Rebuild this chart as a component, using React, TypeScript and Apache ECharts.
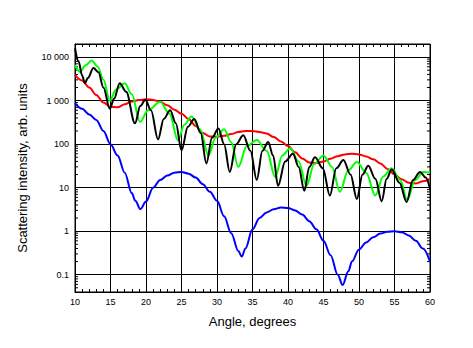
import React, { useEffect, useRef } from "react";
import * as echarts from "echarts";

const xMin = 10;
const xMax = 60;
const xTickStep = 5;
const yMin = 0.04;
const yMax = 20000;

const blackCurve: [number, number][] = [
  [10, 16000], [10.5, 8000], [11, 3800], [11.4, 2500], [11.8, 3300], [12.6, 5600], [13.3, 4500], [14, 2000],
  [14.9, 650], [15.5, 1100], [16.3, 2500], [17.2, 1600], [18.45, 300], [19.2, 750], [19.9, 1050], [20.7, 600],
  [21.7, 128], [22.5, 380], [23.4, 600], [24.2, 300], [25.0, 72], [25.9, 250], [26.8, 380], [27.7, 180],
  [28.5, 36], [29.3, 140], [30.2, 230], [31.0, 100], [31.8, 23], [32.7, 100], [33.7, 160], [34.7, 70],
  [35.6, 15], [36.4, 70], [37.2, 112], [37.9, 55], [38.6, 11], [39.6, 40], [40.7, 60], [41.5, 30],
  [42.3, 8.5], [43.0, 30], [43.8, 50], [44.9, 28], [45.9, 6.6], [46.8, 28], [47.8, 43], [48.8, 20],
  [49.7, 5.5], [50.5, 20], [51.3, 32], [52.3, 16], [53.2, 4.9], [53.9, 16], [54.6, 26], [55.7, 13],
  [56.7, 4.7], [57.6, 15], [58.6, 23], [59.4, 17], [60, 9.3],
];

const greenCurve: [number, number][] = [
  [10, 6600], [10.7, 4600], [11.5, 6500], [12.35, 8400], [13.2, 6000], [14.0, 3000], [14.9, 1000], [15.8, 1800],
  [17.0, 2500], [18.0, 1400], [19.15, 325], [20.3, 600], [22.0, 940], [23.3, 500], [24.5, 123], [25.4, 280],
  [26.4, 430], [27.6, 220], [28.8, 55], [29.8, 140], [31.0, 220], [32.0, 110], [33.0, 30], [34.2, 90],
  [35.6, 125], [37.0, 70], [38.2, 17.5], [39.2, 55], [40.3, 80], [41.5, 40], [42.6, 11], [43.7, 35],
  [45.0, 55], [46.2, 30], [47.3, 8], [48.5, 25], [49.7, 39], [51.0, 22], [52.3, 6.6], [53.4, 18],
  [54.6, 28], [55.8, 15], [56.8, 5.2], [57.9, 15], [59.1, 23], [60, 22],
];

const redCurve: [number, number][] = [
  [10, 3900], [11, 2900], [12, 2000], [13, 1350], [14, 900], [15, 720], [16, 700], [17, 820], [18, 950],
  [19, 1030], [20, 1070], [21, 1040], [22, 940], [23, 780], [24, 620], [25, 500], [26, 380], [27, 260],
  [28, 180], [29, 150], [30, 148], [31, 155], [32, 170], [33, 190], [34, 200], [35, 200], [36, 190],
  [37, 175], [38, 145], [39, 115], [40, 90], [41, 65], [42, 47], [43, 38], [44, 37], [45, 40], [46, 46],
  [47, 53], [48, 58], [49, 60], [50, 58], [51, 52], [52, 45], [53, 36], [54, 27], [55, 20], [56, 15.5],
  [57, 13], [58, 12.5], [59, 14], [60, 16],
];

const blueCurve: [number, number][] = [
  [10, 880], [11, 650], [12, 480], [13, 360], [14, 200], [15, 100], [16, 55], [17, 22], [18, 7.5],
  [18.5, 5], [19.2, 3.2], [20, 4.8], [21, 10], [22, 15], [23, 19], [24, 22], [25, 23], [26, 21], [27, 17],
  [28, 12], [29, 8], [30, 5], [31, 2.2], [32, 0.9], [33, 0.35], [33.5, 0.26], [34, 0.4], [35, 1.1],
  [36, 2], [37, 2.7], [38, 3.2], [39, 3.5], [40, 3.4], [41, 3], [42, 2.4], [43, 1.7], [44, 1.1],
  [45, 0.6], [46, 0.28], [47, 0.1], [47.7, 0.058], [48.5, 0.12], [49, 0.2], [50, 0.38], [51, 0.55],
  [52, 0.72], [53, 0.88], [54, 0.97], [55, 1.0], [56, 0.95], [57, 0.8], [58, 0.6], [59, 0.4], [60, 0.2],
];

const minorMultipliers = [2, 3, 4, 5, 6, 7, 8, 9];
const minorDecades = [0.01, 0.1, 1, 10, 100, 1000, 10000];

const yMinorTicks: [number, number][] = [];
minorDecades.forEach((d) =>
  minorMultipliers.forEach((m) => {
    const v = d * m;
    if (v > yMin * 1.0001 && v < yMax * 0.9999) yMinorTicks.push([xMin, v]);
  })
);

function formatPow(v: number): string {
  const lg = Math.log10(v);
  const p = Math.round(lg);
  if (Math.abs(lg - p) > 1e-6) return "";
  if (p < 0) return (Math.pow(10, p)).toFixed(-p);
  const s = String(Math.round(Math.pow(10, p)));
  return s.replace(/\B(?=(\d{3})+(?!\d))/g, " ");
}

const FONT = "'Liberation Sans', Arial, sans-serif";

export default function App() {
  const ref = useRef<HTMLDivElement>(null);
  useEffect(() => {
    if (!ref.current) return;
    const chart = echarts.init(ref.current, undefined, { renderer: "svg" });
    const lineSeries = (data: [number, number][], color: string) => ({
      type: "line",
      data,
      showSymbol: false,
      smooth: 0.35,
      smoothMonotone: "x",
      lineStyle: { color, width: 2 },
      itemStyle: { color },
      z: 3,
    });
    chart.setOption({
      animation: false,
      backgroundColor: "#fff",
      grid: {
        left: 75,
        right: 43,
        top: 44,
        bottom: 56,
        show: true,
        borderColor: "#000",
        borderWidth: 1,
        backgroundColor: "transparent",
      },
      xAxis: [
        {
          type: "value",
          min: xMin,
          max: xMax,
          interval: xTickStep,
          position: "bottom",
          name: "Angle, degrees",
          nameLocation: "middle",
          nameGap: 23,
          nameTextStyle: { fontFamily: FONT, fontSize: 13, color: "#000" },
          axisLine: { show: true, lineStyle: { color: "#000", width: 1 } },
          axisTick: { show: true, inside: true, length: 3, lineStyle: { color: "#000" } },
          minorTick: { show: true, splitNumber: 5, length: 3, lineStyle: { color: "#000", width: 1 } },
          axisLabel: { fontFamily: FONT, fontSize: 9, color: "#000", margin: 5 },
          splitLine: { show: true, lineStyle: { color: "#000", width: 1 } },
        },
        {
          type: "value",
          min: xMin,
          max: xMax,
          interval: xTickStep,
          position: "top",
          axisLine: { show: true, lineStyle: { color: "#000", width: 1 } },
          axisTick: { show: true, inside: true, length: 3, lineStyle: { color: "#000" } },
          minorTick: { show: true, splitNumber: 5, length: 3, lineStyle: { color: "#000", width: 1 } },
          axisLabel: { show: false },
          splitLine: { show: false },
        },
      ],
      yAxis: {
        type: "log",
        logBase: 10,
        min: yMin,
        max: yMax,
        name: "Scattering intensity, arb. units",
        nameLocation: "middle",
        nameGap: 46,
        nameTextStyle: { fontFamily: FONT, fontSize: 13, color: "#000" },
        axisLine: { show: true, lineStyle: { color: "#000", width: 1 } },
        axisTick: { show: false },
        axisLabel: {
          fontFamily: FONT,
          fontSize: 9,
          color: "#000",
          margin: 6,
          formatter: (v: number) => formatPow(v),
        },
        splitLine: { show: true, lineStyle: { color: "#000", width: 1 } },
      },
      series: [
        {
          type: "custom",
          data: yMinorTicks,
          z: 2,
          silent: true,
          renderItem: (params: any, api: any) => {
            const y = api.coord([xMin, api.value(1)])[1];
            const cs = params.coordSys;
            return {
              type: "group",
              children: [
                {
                  type: "line",
                  shape: { x1: cs.x, y1: y, x2: cs.x + 3, y2: y },
                  style: { stroke: "#000", lineWidth: 1 },
                },
                {
                  type: "line",
                  shape: { x1: cs.x + cs.width - 3, y1: y, x2: cs.x + cs.width, y2: y },
                  style: { stroke: "#000", lineWidth: 1 },
                },
              ],
            };
          },
        },
        lineSeries(redCurve, "#ff0000"),
        lineSeries(blueCurve, "#0000ff"),
        lineSeries(greenCurve, "#00ff00"),
        lineSeries(blackCurve, "#000000"),
      ],
    });
    return () => chart.dispose();
  }, []);
  return (
    <div
      ref={ref}
      style={{ position: "fixed", left: 0, top: 0, width: 473, height: 348, background: "#fff" }}
    />
  );
}
